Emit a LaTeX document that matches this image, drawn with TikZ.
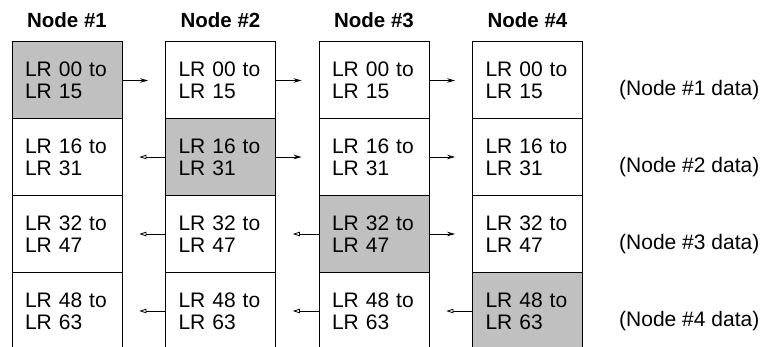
\documentclass[tikz,border=0pt]{standalone}
\usepackage{fontspec}
\setmainfont{Liberation Sans}
\usetikzlibrary{arrows.meta,calc}
\definecolor{srcgray}{RGB}{192,192,192}
\newcommand\fwdarrow[2]{\draw[fwd] (#1.east) -- ($(#1.east)!0.6!(#2.west)$);}
\newcommand\bwdarrow[2]{\draw[bwd] (#1.west) -- ($(#1.west)!0.6!(#2.east)$);}
\begin{document}
\begin{tikzpicture}[x=1pt,y=-1pt,
  cell/.style={draw,line width=1pt,minimum height=77pt,text width=84pt,
    inner xsep=13pt,inner ysep=0pt,outer sep=0pt,align=left,anchor=north west,
    font=\fontsize{21}{22}\selectfont},
  head/.style={font=\bfseries\fontsize{20.5}{24}\selectfont},
  lbl/.style={font=\fontsize{21}{24}\selectfont,anchor=west,inner sep=0pt},
  fwd/.style={line width=0.8pt,-{Stealth[length=8pt,width=4.5pt]}},
  bwd/.style={line width=0.8pt,-{Triangle[open,length=7pt,width=4.5pt]}}]
\useasboundingbox (0,0) rectangle (762,347);
\clip (0,0) rectangle (762,347);
\foreach \c/\x in {1/12,2/165.5,3/319,4/472.5}{
  \foreach \r/\y/\a/\b in {1/42/00/15,2/118.5/16/31,3/195.5/32/47,4/272.5/48/63}{
    \ifnum\c=\r\relax\def\fc{srcgray}\else\def\fc{white}\fi
    \node[cell,fill=\fc] (c\c\r) at (\x,\y) {LR \a{} to\\LR \b};
  }
}
\node[head] (h1) at (67,20) {Node \#1};
\node[head] (h2) at (220.5,20) {Node \#2};
\node[head] (h3) at (374,20) {Node \#3};
\node[head] (h4) at (527.5,20) {Node \#4};
\node[lbl] (l1) at (619,90) {(Node \#1 data)};
\node[lbl] (l2) at (619,167) {(Node \#2 data)};
\node[lbl] (l3) at (619,244) {(Node \#3 data)};
\node[lbl] (l4) at (619,321) {(Node \#4 data)};
% row 1
\fwdarrow{c11}{c21}
\fwdarrow{c21}{c31}
\fwdarrow{c31}{c41}
% row 2
\bwdarrow{c22}{c12}
\fwdarrow{c22}{c32}
\fwdarrow{c32}{c42}
% row 3
\bwdarrow{c23}{c13}
\bwdarrow{c33}{c23}
\fwdarrow{c33}{c43}
% row 4
\bwdarrow{c24}{c14}
\bwdarrow{c34}{c24}
\bwdarrow{c44}{c34}
\end{tikzpicture}
\end{document}
